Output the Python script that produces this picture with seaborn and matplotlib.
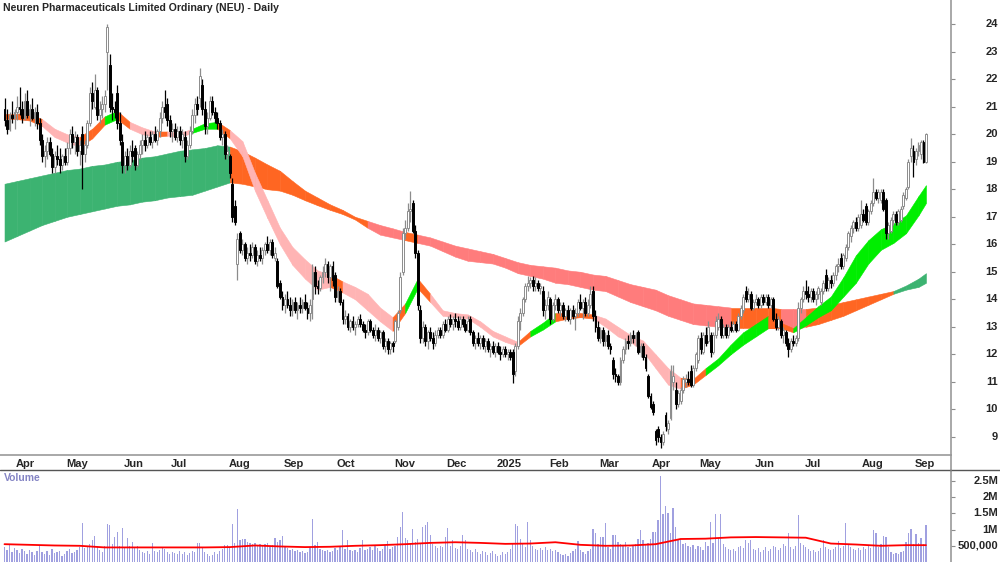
import numpy as np
import pandas as pd
import matplotlib.pyplot as plt
import matplotlib.transforms as mtransforms
import seaborn as sns
from matplotlib.lines import Line2D

sns.set_theme(style="white")
plt.rcParams['font.family'] = ['Liberation Sans', 'DejaVu Sans']

# ASX trading days, 22 Mar 2024 - 5 Sep 2025
asx_holidays = ['2024-03-29', '2024-04-01', '2024-04-25', '2024-06-10', '2024-12-25', '2024-12-26',
                '2025-01-01', '2025-01-27', '2025-04-18', '2025-04-21', '2025-04-25', '2025-06-09']
dates = pd.bdate_range('2024-03-22', '2025-09-05', freq='C', holidays=asx_holidays)

opens = [
    20.9, 20.5, 20.2, 20.7, 20.6, 20.8, 21.0, 20.9, 20.6, 21.2,
    20.7, 20.9, 20.6, 20.8, 20.4, 19.8, 19.2, 19.4, 19.7, 19.3,
    18.8, 19.2, 19.1, 18.9, 19.2, 19.0, 19.5, 20.0, 19.7, 19.9,
    19.4, 20.0, 19.3, 19.6, 20.4, 21.5, 21.0, 21.6, 20.7, 20.9,
    21.1, 23.0, 22.5, 21.0, 20.9, 21.5, 20.4, 19.7, 18.9, 19.2,
    18.9, 19.4, 19.5, 18.9, 19.3, 19.6, 19.8, 19.6, 19.9, 19.7,
    20.0, 19.8, 20.1, 20.6, 21.0, 21.1, 20.5, 20.1, 20.2, 19.9,
    20.1, 19.8, 19.9, 19.2, 19.6, 20.1, 20.7, 21.1, 21.3, 21.8,
    20.9, 20.3, 20.6, 21.2, 20.8, 20.6, 20.4, 19.9, 20.0, 19.3,
    19.2, 18.2, 17.4, 15.3, 16.4, 15.8, 16.0, 15.5, 15.7, 15.6,
    15.9, 15.4, 15.6, 15.5, 15.8, 16.0, 15.8, 16.1, 15.5, 15.4,
    14.6, 14.1, 13.8, 14.0, 13.8, 13.6, 13.9, 13.6, 13.8, 13.7,
    13.9, 13.7, 13.5, 14.0, 15.0, 14.5, 14.4, 14.8, 15.0, 15.3,
    14.8, 15.2, 14.9, 14.1, 14.3, 13.9, 13.3, 13.4, 13.0, 13.2,
    13.0, 13.1, 13.3, 13.1, 12.9, 12.8, 13.2, 12.9, 12.7, 12.9,
    12.6, 12.8, 12.3, 12.5, 12.2, 12.4, 12.5, 13.0, 13.6, 15.0,
    16.4, 16.6, 17.2, 17.5, 16.5, 15.7, 13.6, 12.6, 13.0, 12.5,
    12.8, 12.6, 12.4, 12.7, 12.9, 12.7, 13.1, 12.9, 13.3, 13.1,
    13.3, 13.2, 13.0, 13.3, 13.1, 12.9, 13.3, 12.8, 12.4, 12.6,
    12.4, 12.6, 12.3, 12.5, 12.2, 12.3, 12.1, 12.3, 12.1, 12.0,
    12.2, 12.0, 12.1, 12.1, 11.4, 12.3, 13.2, 13.5, 14.0, 14.5,
    14.6, 14.7, 14.5, 14.6, 14.4, 14.3, 13.6, 13.8, 14.0, 13.3,
    13.8, 14.0, 13.6, 13.8, 13.4, 13.6, 13.3, 13.6, 13.4, 13.5,
    13.9, 13.7, 13.9, 13.5, 13.8, 14.3, 13.4, 13.0, 12.6, 12.9,
    12.5, 12.7, 12.3, 11.8, 11.3, 11.2, 11.0, 11.8, 12.2, 12.5,
    12.4, 12.7, 12.6, 12.8, 12.1, 12.3, 11.9, 11.2, 10.5, 10.2,
    9.2, 9.3, 9.0, 8.8, 9.8, 9.3, 9.7, 11.0, 10.7, 10.2,
    10.3, 10.7, 11.0, 11.1, 11.4, 10.9, 11.5, 11.8, 12.6, 12.1,
    12.7, 12.5, 12.7, 12.1, 12.7, 13.0, 13.3, 12.7, 13.0, 12.7,
    13.0, 12.9, 13.1, 12.9, 13.4, 13.6, 14.3, 14.0, 14.2, 13.7,
    13.9, 14.0, 13.8, 14.1, 13.9, 14.1, 13.8, 14.0, 13.3, 13.0,
    13.2, 12.7, 12.8, 12.4, 12.2, 12.5, 12.4, 12.6, 13.7, 14.0,
    14.3, 14.2, 14.1, 14.3, 14.0, 14.2, 13.9, 14.3, 14.9, 14.4,
    14.7, 14.6, 14.9, 15.2, 15.5, 15.2, 15.5, 15.9, 16.3, 16.6,
    16.8, 16.6, 16.7, 17.1, 17.4, 16.8, 17.2, 17.5, 17.9, 17.7,
    17.6, 17.9, 17.6, 16.4, 16.5, 16.9, 17.1, 16.8, 16.9, 17.4,
    17.7, 18.1, 19.2, 19.4, 19.1, 19.4, 19.3, 19.7, 19.0,
]
highs = [
    21.3, 20.9, 20.8, 21.2, 20.9, 21.4, 21.7, 21.2, 21.5, 21.6,
    21.1, 21.3, 21.0, 21.1, 20.6, 20.0, 19.6, 19.9, 19.9, 19.5,
    19.4, 19.6, 19.5, 19.3, 19.5, 19.7, 20.2, 20.3, 20.1, 20.0,
    19.8, 20.3, 19.8, 20.5, 21.7, 21.9, 22.2, 21.7, 21.2, 21.4,
    21.6, 24.0, 22.9, 21.5, 21.2, 21.8, 20.8, 20.0, 19.4, 19.5,
    19.6, 19.8, 19.6, 19.4, 19.8, 20.0, 20.1, 20.0, 20.1, 20.1,
    20.3, 20.2, 20.8, 21.2, 21.6, 21.3, 20.7, 20.4, 20.4, 20.3,
    20.3, 20.2, 20.1, 19.8, 20.3, 20.9, 21.3, 21.4, 22.4, 22.0,
    21.2, 20.8, 21.4, 21.4, 21.0, 20.8, 20.5, 20.2, 20.1, 19.6,
    19.3, 18.4, 17.6, 16.4, 16.5, 16.2, 16.1, 15.9, 16.0, 16.1,
    16.0, 15.8, 15.9, 15.9, 16.1, 16.3, 16.2, 16.2, 15.9, 15.5,
    14.7, 14.3, 14.2, 14.3, 14.1, 14.0, 14.1, 13.9, 14.1, 14.0,
    14.2, 13.9, 14.0, 15.3, 15.2, 14.7, 14.9, 15.2, 15.5, 15.4,
    15.3, 15.4, 15.0, 14.5, 14.4, 14.0, 13.6, 13.5, 13.3, 13.4,
    13.2, 13.4, 13.45, 13.2, 13.1, 13.3, 13.3, 13.0, 13.1, 13.0,
    12.9, 12.9, 12.6, 12.6, 12.5, 12.5, 13.3, 13.6, 15.0, 16.6,
    16.9, 17.5, 17.95, 17.6, 16.7, 15.8, 13.8, 13.2, 13.1, 12.9,
    13.0, 12.8, 12.9, 13.0, 13.0, 13.2, 13.3, 13.4, 13.45, 13.4,
    13.5, 13.4, 13.4, 13.4, 13.3, 13.4, 13.4, 12.9, 12.7, 12.8,
    12.7, 12.7, 12.6, 12.6, 12.4, 12.5, 12.4, 12.45, 12.3, 12.3,
    12.3, 12.2, 12.2, 12.2, 12.4, 13.4, 13.7, 14.1, 14.6, 14.85,
    14.8, 14.85, 14.8, 14.7, 14.6, 14.5, 14.0, 14.3, 14.1, 13.9,
    14.2, 14.1, 13.9, 13.9, 13.7, 13.8, 13.7, 13.8, 13.7, 14.0,
    14.2, 14.0, 14.1, 14.0, 14.5, 14.5, 13.6, 13.2, 13.0, 13.0,
    12.8, 12.9, 12.4, 11.9, 11.5, 11.3, 11.9, 12.3, 12.6, 12.7,
    12.8, 12.9, 12.8, 12.9, 12.4, 12.4, 12.0, 11.3, 10.6, 10.3,
    9.3, 9.4, 9.1, 9.2, 9.9, 9.6, 11.6, 11.6, 11.0, 10.7,
    10.8, 11.2, 11.3, 11.4, 11.6, 11.6, 12.1, 12.7, 12.8, 12.8,
    13.0, 13.2, 12.8, 12.8, 13.4, 13.5, 13.4, 13.1, 13.1, 13.1,
    13.2, 13.2, 13.2, 13.5, 13.8, 14.2, 14.5, 14.4, 14.3, 14.0,
    14.2, 14.1, 14.2, 14.2, 14.2, 14.2, 14.1, 14.1, 13.5, 13.4,
    13.3, 13.0, 12.9, 12.6, 12.6, 12.7, 12.7, 13.9, 14.1, 14.5,
    14.7, 14.5, 14.4, 14.4, 14.3, 14.5, 14.4, 14.7, 15.1, 14.8,
    14.9, 15.0, 15.3, 15.5, 15.7, 15.7, 16.0, 16.5, 16.7, 16.9,
    17.0, 17.1, 17.6, 17.3, 17.5, 17.3, 17.6, 18.4, 18.0, 18.0,
    18.0, 18.0, 17.7, 16.8, 17.0, 17.2, 17.2, 17.3, 17.4, 17.9,
    18.1, 19.1, 19.85, 19.6, 19.5, 19.7, 19.8, 19.8, 20.05,
]
lows = [
    20.3, 20.0, 20.1, 20.4, 20.2, 20.5, 20.7, 20.4, 20.5, 20.6,
    20.3, 20.5, 20.3, 20.2, 19.6, 19.0, 18.8, 19.1, 19.2, 18.6,
    18.6, 18.9, 18.6, 18.7, 18.9, 18.9, 19.3, 19.5, 19.3, 19.2,
    18.9, 18.0, 19.0, 19.5, 20.3, 20.9, 20.9, 20.5, 20.4, 20.6,
    20.8, 21.6, 20.8, 20.5, 20.6, 20.2, 19.6, 18.6, 18.6, 18.7,
    18.8, 19.0, 18.7, 18.8, 19.1, 19.3, 19.4, 19.5, 19.6, 19.5,
    19.7, 19.6, 19.9, 20.4, 20.6, 20.3, 19.9, 19.7, 19.8, 19.7,
    19.6, 19.5, 19.0, 19.1, 19.5, 20.0, 20.4, 20.7, 21.0, 20.7,
    20.0, 20.0, 20.5, 20.7, 20.4, 20.2, 19.8, 19.6, 19.1, 19.1,
    18.4, 16.8, 16.7, 14.7, 15.7, 15.6, 15.4, 15.3, 15.4, 15.5,
    15.3, 15.2, 15.4, 15.3, 15.6, 15.7, 15.6, 15.5, 15.4, 14.4,
    14.0, 13.6, 13.5, 13.7, 13.4, 13.4, 13.5, 13.3, 13.5, 13.5,
    13.6, 13.3, 13.2, 13.3, 14.2, 14.2, 14.3, 14.6, 14.8, 14.6,
    14.3, 14.5, 13.9, 13.9, 13.8, 13.1, 13.1, 12.9, 12.8, 12.9,
    12.7, 13.0, 13.0, 12.8, 12.6, 12.7, 12.8, 12.6, 12.5, 12.5,
    12.4, 12.2, 12.1, 12.0, 12.0, 12.1, 12.4, 12.9, 13.5, 14.9,
    16.2, 16.5, 16.8, 16.4, 15.5, 13.6, 12.4, 12.4, 12.3, 12.2,
    12.5, 12.2, 12.3, 12.6, 12.6, 12.6, 12.8, 12.8, 13.0, 12.9,
    13.0, 12.9, 12.9, 13.0, 12.8, 12.8, 12.7, 12.3, 12.2, 12.3,
    12.2, 12.2, 12.1, 12.1, 11.9, 12.0, 11.9, 12.0, 11.8, 11.9,
    11.9, 11.8, 11.8, 10.95, 11.2, 12.2, 12.9, 13.4, 13.9, 14.3,
    14.4, 14.3, 14.3, 14.3, 14.2, 13.4, 13.3, 13.6, 13.1, 13.2,
    13.6, 13.5, 13.4, 13.3, 13.2, 13.2, 13.1, 13.3, 12.9, 13.4,
    13.6, 13.3, 13.4, 13.4, 13.7, 13.2, 12.8, 12.5, 12.4, 12.3,
    12.3, 12.2, 12.0, 11.1, 11.0, 10.9, 10.9, 11.7, 12.0, 12.2,
    12.3, 12.4, 12.3, 12.0, 11.9, 11.8, 11.4, 10.4, 10.0, 9.8,
    8.7, 8.8, 8.6, 8.7, 9.2, 9.1, 9.6, 10.7, 10.0, 10.1,
    10.2, 10.6, 10.8, 10.9, 10.8, 10.8, 11.4, 11.7, 12.0, 12.0,
    12.3, 12.4, 11.9, 12.0, 12.6, 12.9, 12.6, 12.6, 12.6, 12.6,
    12.8, 12.8, 12.8, 12.85, 13.3, 13.5, 13.9, 13.9, 13.6, 13.6,
    13.8, 13.7, 13.7, 13.8, 13.8, 13.7, 13.7, 13.2, 12.9, 12.9,
    12.6, 12.4, 12.3, 11.9, 12.1, 12.3, 12.3, 12.5, 13.5, 13.9,
    14.0, 13.9, 13.9, 13.9, 13.8, 14.0, 13.8, 14.2, 14.3, 14.3,
    14.4, 14.5, 14.7, 15.0, 15.1, 15.1, 15.4, 15.8, 16.1, 16.4,
    16.5, 16.5, 16.6, 16.8, 16.7, 16.7, 17.1, 17.4, 17.6, 17.5,
    17.5, 17.2, 16.2, 16.2, 16.4, 16.7, 16.7, 16.7, 16.8, 17.3,
    17.6, 18.0, 19.0, 18.45, 18.9, 19.2, 19.1, 18.95, 18.95,
]
closes = [
    20.5, 20.2, 20.7, 20.6, 20.8, 21.0, 20.9, 20.6, 21.2, 20.7,
    20.9, 20.6, 20.8, 20.4, 19.8, 19.2, 19.4, 19.7, 19.3, 18.8,
    19.2, 19.1, 18.9, 19.2, 19.0, 19.5, 20.0, 19.7, 19.9, 19.4,
    19.6, 19.3, 19.6, 20.4, 21.5, 21.2, 21.6, 20.7, 20.9, 21.1,
    21.4, 23.9, 21.0, 20.9, 20.8, 20.4, 19.8, 18.9, 19.2, 18.9,
    19.4, 19.2, 18.9, 19.3, 19.6, 19.8, 19.6, 19.9, 19.7, 20.0,
    19.8, 20.1, 20.6, 21.0, 20.8, 20.5, 20.1, 20.2, 19.9, 20.1,
    19.8, 20.0, 19.2, 19.6, 20.1, 20.7, 21.1, 20.9, 22.1, 20.9,
    20.3, 20.6, 21.2, 20.8, 20.6, 20.4, 19.9, 20.0, 19.3, 19.4,
    18.6, 17.0, 16.8, 16.2, 15.8, 16.0, 15.5, 15.7, 15.6, 15.9,
    15.4, 15.6, 15.5, 15.8, 16.0, 15.8, 16.1, 15.6, 15.7, 14.5,
    14.1, 13.8, 14.0, 13.8, 13.6, 13.9, 13.6, 13.8, 13.7, 13.9,
    13.7, 13.5, 13.8, 15.0, 14.5, 14.4, 14.8, 15.0, 15.3, 14.8,
    15.2, 14.7, 14.1, 14.3, 13.9, 13.3, 13.4, 13.0, 13.2, 13.0,
    13.1, 13.3, 13.1, 12.9, 12.8, 13.2, 12.9, 12.7, 12.9, 12.6,
    12.8, 12.3, 12.5, 12.2, 12.4, 12.3, 13.2, 13.5, 14.8, 16.4,
    16.6, 17.2, 17.3, 16.5, 15.7, 13.8, 12.6, 13.0, 12.5, 12.8,
    12.6, 12.4, 12.7, 12.9, 12.7, 13.1, 12.9, 13.3, 13.1, 13.3,
    13.2, 13.0, 13.3, 13.1, 12.9, 13.2, 12.8, 12.4, 12.6, 12.4,
    12.6, 12.3, 12.5, 12.2, 12.3, 12.1, 12.3, 12.1, 12.0, 12.2,
    12.0, 12.1, 11.9, 11.3, 12.3, 13.2, 13.5, 14.0, 14.5, 14.6,
    14.7, 14.5, 14.6, 14.4, 14.5, 13.6, 13.8, 14.1, 13.3, 13.8,
    14.0, 13.6, 13.8, 13.4, 13.6, 13.3, 13.6, 13.4, 13.5, 13.9,
    13.7, 13.9, 13.5, 13.8, 14.2, 13.4, 13.0, 12.6, 12.9, 12.5,
    12.7, 12.3, 12.2, 11.3, 11.2, 11.0, 11.8, 12.2, 12.5, 12.4,
    12.7, 12.6, 12.7, 12.1, 12.3, 11.9, 11.5, 10.5, 10.1, 9.9,
    8.9, 9.0, 8.8, 9.1, 9.4, 9.5, 11.4, 11.2, 10.2, 10.6,
    10.7, 11.1, 11.1, 11.0, 10.9, 11.5, 12.0, 12.6, 12.2, 12.7,
    12.4, 13.0, 12.1, 12.7, 13.2, 13.3, 12.7, 13.0, 12.7, 13.0,
    12.9, 13.1, 12.9, 13.4, 13.7, 14.1, 14.0, 14.2, 13.7, 13.9,
    14.0, 13.8, 14.1, 13.9, 14.1, 13.8, 14.0, 13.3, 13.0, 13.3,
    12.7, 12.9, 12.4, 12.2, 12.5, 12.4, 12.6, 13.7, 14.0, 14.3,
    14.2, 14.1, 14.3, 14.0, 14.2, 14.4, 14.3, 14.6, 14.4, 14.7,
    14.6, 14.9, 15.2, 15.3, 15.2, 15.6, 15.9, 16.4, 16.6, 16.8,
    16.6, 17.0, 17.1, 16.9, 16.8, 17.2, 17.5, 17.9, 17.7, 17.9,
    17.9, 17.3, 16.4, 16.7, 16.9, 17.1, 16.8, 17.2, 17.3, 17.8,
    18.0, 19.0, 19.5, 19.0, 19.4, 19.6, 19.7, 19.0, 20.0,
]
# daily volume, millions of shares
volume = [
    0.45, 0.38, 0.52, 0.31, 0.42, 0.36, 0.28, 0.40, 0.33, 0.25,
    0.38, 0.30, 0.22, 0.35, 0.48, 0.30, 0.26, 0.34, 0.22, 0.40,
    0.28, 0.31, 0.35, 0.20, 0.25, 0.33, 0.40, 0.28, 0.30, 0.36,
    0.45, 1.20, 0.42, 0.50, 0.55, 0.69, 0.79, 0.45, 0.38, 0.32,
    0.48, 1.18, 1.15, 0.55, 0.77, 0.94, 0.50, 1.04, 0.45, 0.74,
    0.48, 0.63, 0.42, 0.50, 0.36, 0.30, 0.28, 0.35, 0.26, 0.60,
    0.33, 0.30, 0.36, 0.42, 0.40, 0.32, 0.25, 0.30, 0.28, 0.26,
    0.33, 0.24, 0.30, 0.22, 0.28, 0.35, 0.30, 0.60, 0.60, 0.42,
    0.30, 0.25, 0.20, 0.22, 0.30, 0.26, 0.35, 0.40, 0.53, 0.53,
    0.45, 1.17, 0.60, 1.63, 0.69, 0.72, 0.70, 0.62, 0.58, 0.55,
    0.60, 0.52, 0.56, 0.50, 0.55, 0.58, 0.45, 0.52, 0.74, 0.62,
    0.69, 0.81, 0.48, 0.42, 0.36, 0.40, 0.33, 0.38, 0.30, 0.35,
    0.28, 0.32, 0.45, 1.33, 0.52, 0.63, 0.40, 0.36, 0.33, 0.38,
    0.30, 0.35, 0.42, 0.38, 0.45, 1.00, 0.40, 0.69, 0.36, 0.33,
    0.38, 0.30, 0.42, 0.69, 0.36, 0.40, 0.45, 0.38, 0.50, 0.42,
    0.35, 0.40, 0.52, 0.66, 0.40, 0.45, 0.50, 0.77, 1.07, 1.55,
    0.74, 0.69, 0.58, 1.01, 0.62, 0.70, 0.55, 1.09, 1.15, 1.22,
    0.84, 0.55, 0.48, 0.42, 0.50, 0.45, 0.77, 1.06, 0.50, 0.69,
    0.42, 0.40, 0.48, 0.82, 0.69, 0.40, 0.36, 0.32, 0.40, 0.30,
    0.26, 0.35, 0.30, 0.22, 0.28, 0.33, 0.25, 0.20, 0.22, 0.30,
    0.26, 0.32, 0.40, 0.60, 1.18, 1.12, 0.71, 0.55, 0.45, 1.24,
    0.69, 0.48, 0.40, 0.36, 0.42, 0.38, 0.45, 0.36, 0.40, 0.33,
    0.38, 0.30, 0.26, 0.22, 0.25, 0.20, 0.28, 0.35, 0.40, 0.66,
    0.36, 0.30, 0.26, 0.33, 0.40, 1.01, 0.89, 0.55, 0.77, 0.77,
    1.20, 0.45, 0.40, 0.84, 0.84, 0.63, 0.55, 0.50, 0.63, 0.45,
    0.42, 0.50, 0.55, 0.71, 1.00, 0.69, 0.55, 0.60, 0.72, 0.94,
    0.94, 1.30, 2.64, 1.48, 1.74, 1.50, 0.90, 1.66, 1.08, 0.72,
    0.69, 0.55, 0.60, 0.50, 0.45, 0.52, 0.40, 0.48, 0.45, 0.38,
    0.63, 0.50, 1.22, 0.60, 1.49, 0.74, 1.48, 0.55, 0.45, 0.40,
    0.36, 0.40, 0.33, 0.45, 0.50, 0.42, 0.69, 0.60, 0.69, 0.40,
    0.36, 0.42, 0.30, 0.38, 0.45, 0.33, 0.40, 0.50, 0.45, 0.38,
    0.42, 0.55, 0.48, 0.89, 0.45, 0.40, 0.50, 1.45, 0.60, 0.52,
    0.45, 0.40, 0.33, 0.38, 0.30, 0.35, 0.42, 0.69, 0.45, 0.40,
    0.36, 0.40, 0.45, 0.66, 0.42, 0.50, 1.20, 0.55, 0.45, 0.40,
    0.38, 0.42, 0.36, 0.45, 0.40, 0.50, 0.42, 0.98, 0.89, 0.45,
    0.55, 0.79, 0.77, 0.45, 0.30, 0.26, 0.28, 0.25, 0.30, 0.33,
    0.63, 0.89, 1.02, 0.55, 0.86, 0.60, 0.74, 0.55, 1.14,
]

# moving-average ribbons, read every 5th trading day (plus the last day)
short_hi = [20.75, 20.75, 20.75, 20.55, 20.2, 20.0, 19.9, 20.2, 20.65, 20.85,
            20.45, 20.25, 20.1, 20.1, 20.05, 20.2, 20.4, 20.45, 20.15, 19.75,
            18.6, 17.6, 16.6, 15.9, 15.45, 15.05, 14.9, 14.65, 14.45, 14.2,
            13.7, 13.35, 13.85, 14.75, 14.2, 13.6, 13.5, 13.45, 13.2, 12.85,
            12.65, 12.45, 12.85, 13.15, 13.5, 13.5, 13.5, 13.45, 13.3, 13.0,
            12.7, 12.5, 12.0, 11.5, 11.15, 11.1, 11.5, 11.85, 12.35, 12.8,
            13.1, 13.4, 13.15, 12.95, 13.35, 13.75, 14.1, 14.8, 15.6, 16.15,
            16.55, 16.75, 17.05, 17.75, 18.15]
short_lo = [20.55, 20.55, 20.5, 20.3, 19.9, 19.7, 19.55, 19.85, 20.35, 20.55,
            20.2, 20.0, 19.9, 19.95, 19.9, 20.05, 20.2, 20.2, 19.85, 19.2,
            17.95, 16.95, 16.0, 15.25, 14.75, 14.35, 14.45, 14.25, 14.0, 13.6,
            13.2, 12.85, 13.5, 14.4, 13.9, 13.4, 13.35, 13.3, 13.0, 12.65,
            12.45, 12.3, 12.65, 12.9, 13.2, 13.3, 13.35, 13.3, 13.0, 12.65,
            12.45, 12.1, 11.5, 10.9, 10.75, 10.9, 11.25, 11.6, 12.0, 12.35,
            12.65, 12.95, 12.95, 12.8, 13.05, 13.35, 13.6, 14.1, 14.6, 15.3,
            15.8, 16.05, 16.4, 17.05, 17.5]
# u = rising, m = mixed, d = falling
short_state = list("mmmdddmmum" "ddmdduumdd" "ddddddmddd" "dmumdddddd"
                   "dmuummmddd" "ddddmmuuuu" "ummuuuuuuu" "uuuuu")
long_hi = [18.2, 18.3, 18.4, 18.5, 18.6, 18.7, 18.75, 18.85, 18.9, 19.0,
           19.05, 19.15, 19.2, 19.3, 19.4, 19.45, 19.5, 19.6, 19.55, 19.38,
           19.15, 18.9, 18.67, 18.3, 17.95, 17.7, 17.45, 17.25, 17.0, 16.85,
           16.7, 16.58, 16.45, 16.35, 16.25, 16.1, 15.95, 15.85, 15.75, 15.65,
           15.5, 15.35, 15.25, 15.2, 15.15, 15.05, 15.0, 14.9, 14.85, 14.7,
           14.55, 14.45, 14.35, 14.15, 14.0, 13.85, 13.8, 13.75, 13.7, 13.7,
           13.7, 13.7, 13.65, 13.65, 13.65, 13.7, 13.8, 13.9, 14.0, 14.1,
           14.2, 14.3, 14.5, 14.75, 14.95]
long_lo = [16.1, 16.3, 16.5, 16.7, 16.85, 17.0, 17.1, 17.2, 17.3, 17.4,
           17.45, 17.55, 17.6, 17.7, 17.75, 17.8, 17.95, 18.1, 18.25, 18.2,
           18.1, 18.0, 17.95, 17.8, 17.6, 17.42, 17.25, 17.1, 16.9, 16.6,
           16.35, 16.25, 16.15, 16.05, 15.95, 15.75, 15.55, 15.4, 15.35, 15.3,
           15.15, 14.95, 14.85, 14.75, 14.6, 14.55, 14.45, 14.35, 14.3, 14.1,
           13.9, 13.75, 13.6, 13.4, 13.25, 13.1, 13.05, 13.0, 12.95, 12.95,
           12.95, 12.95, 12.95, 12.9, 13.0, 13.1, 13.25, 13.4, 13.6, 13.8,
           14.0, 14.2, 14.35, 14.45, 14.6]
long_state = list("uuuuuuuuuu" "uuuuuuuumm" "mmmmmmmmmd" "ddmddddddd" "dddddddddd"
                  "ddddddddmm" "mmddmmmmmm" "muuuu")
# volume moving average, millions, every 10th trading day (plus the last day)
vol_ma = [0.55, 0.53, 0.51, 0.50, 0.45, 0.45, 0.45, 0.45, 0.45, 0.46,
          0.51, 0.48, 0.46, 0.47, 0.50, 0.52, 0.55, 0.59, 0.61, 0.59,
          0.56, 0.57, 0.61, 0.53, 0.50, 0.51, 0.55, 0.71, 0.72, 0.76,
          0.77, 0.76, 0.75, 0.57, 0.54, 0.50, 0.52, 0.52]

short_colors = {'u': '#00EE00', 'm': '#FF6622', 'd': '#FFB4B4'}
long_colors = {'u': '#3CB371', 'm': '#FF6622', 'd': '#FF7C7C'}

n = len(dates)
df = pd.DataFrame({'x': np.arange(n), 'open': opens, 'high': highs, 'low': lows,
                   'close': closes, 'volume': np.array(volume) * 1e6})
rib_x = np.r_[np.arange(0, n - 1, 5), n - 1]
ma_x = np.r_[np.arange(0, n - 1, 10), n - 1]

fig = plt.figure(figsize=(10, 5.62), dpi=100)
ax = fig.add_axes([0, 107 / 562, 0.951, 455 / 562])
axv = fig.add_axes([0, 0, 0.951, 92 / 562])

# ribbons
for hi, lo, state, cols, z in [(long_hi, long_lo, long_state, long_colors, 1),
                               (short_hi, short_lo, short_state, short_colors, 2)]:
    for i in range(len(rib_x) - 1):
        c = cols[state[i]]
        ax.fill_between(rib_x[i:i + 2], lo[i:i + 2], hi[i:i + 2], color=c,
                        edgecolor=c, lw=0.4, zorder=z)

# candles
up = df.close >= df.open
body_lo = np.minimum(df.open, df.close)
body_h = np.maximum((df.close - df.open).abs(), 0.05)
ax.vlines(df.x[up], df.low[up], df.high[up], color='#8c8c8c', lw=0.9, zorder=3)
ax.vlines(df.x[~up], df.low[~up], df.high[~up], color='black', lw=0.9, zorder=3)
ax.bar(df.x[up], body_h[up], bottom=body_lo[up], width=0.75, facecolor='white',
       edgecolor='#8c8c8c', lw=0.7, zorder=4)
ax.bar(df.x[~up], body_h[~up], bottom=body_lo[~up], width=0.75, facecolor='black',
       edgecolor='black', lw=0.7, zorder=4)

xlim = (-1.8, 378)
ax.set_xlim(xlim)
ax.set_ylim(8.34, 24.88)

# month ticks
months = pd.Series(dates.to_period('M'))
first_idx = np.flatnonzero(months.ne(months.shift()).to_numpy())[1:]
mlabels = ['2025' if dates[i].month == 1 else dates[i].strftime('%b') for i in first_idx]
ax.set_xticks(first_idx - 0.5)
ax.set_xticklabels(mlabels, fontweight='bold', fontsize=8, ha='left')
ax.tick_params(axis='x', direction='inout', length=4, width=0.8, color='#8c8c8c', pad=1)

# price scale on the right, labels right-aligned at the figure edge
ax.yaxis.tick_right()
price_ticks = list(range(9, 25))
ax.set_yticks(price_ticks)
ax.tick_params(axis='y', direction='out', length=3, width=0.8, color='#8c8c8c', labelright=False)
lab_tr = mtransforms.blended_transform_factory(fig.transFigure, ax.transData)
for v in price_ticks:
    ax.text(0.998, v, str(v), transform=lab_tr, ha='right', va='center',
            fontsize=8, fontweight='bold', clip_on=False)

for s in ['top', 'left']:
    ax.spines[s].set_visible(False)
for s in ['right', 'bottom']:
    ax.spines[s].set_color('#999999')
    ax.spines[s].set_linewidth(1.2)

ax.text(0.003, 0.983, 'Neuren Pharmaceuticals Limited Ordinary (NEU) - Daily',
        transform=ax.transAxes, fontsize=7.6, fontweight='bold', va='center', ha='left')

# volume panel
axv.bar(df.x, df.volume, width=0.5, color='#A0A0E0', lw=0)
sns.lineplot(x=ma_x, y=np.array(vol_ma) * 1e6, ax=axv, color='#FF0000', lw=1.3)
axv.set_xlim(xlim)
axv.set_ylim(0, 2.84e6)
axv.set_xticks([])
axv.yaxis.tick_right()
vticks = [5e5, 1e6, 1.5e6, 2e6, 2.5e6]
axv.set_yticks(vticks)
axv.tick_params(axis='y', direction='out', length=3, width=0.8, color='#8c8c8c', labelright=False)
vlab_tr = mtransforms.blended_transform_factory(fig.transFigure, axv.transData)
for v, s in zip(vticks, ['500,000', '1M', '1.5M', '2M', '2.5M']):
    axv.text(0.998, v, s, transform=vlab_tr, ha='right', va='center',
             fontsize=8, fontweight='bold', clip_on=False)
for s in ['top', 'left', 'bottom']:
    axv.spines[s].set_visible(False)
axv.spines['right'].set_color('#999999')
axv.spines['right'].set_linewidth(1.2)
axv.text(0.004, 0.91, 'Volume', transform=axv.transAxes, fontsize=7.5, fontweight='bold',
         color='#8484C4', va='center', ha='left')

fig.add_artist(Line2D([0, 1], [92.5 / 562] * 2, color='#555555', lw=1, transform=fig.transFigure))
fig.add_artist(Line2D([0.951] * 2, [92 / 562, 107 / 562], color='#999999', lw=1.2,
                      transform=fig.transFigure))

fig.savefig('out.png', dpi=100)
